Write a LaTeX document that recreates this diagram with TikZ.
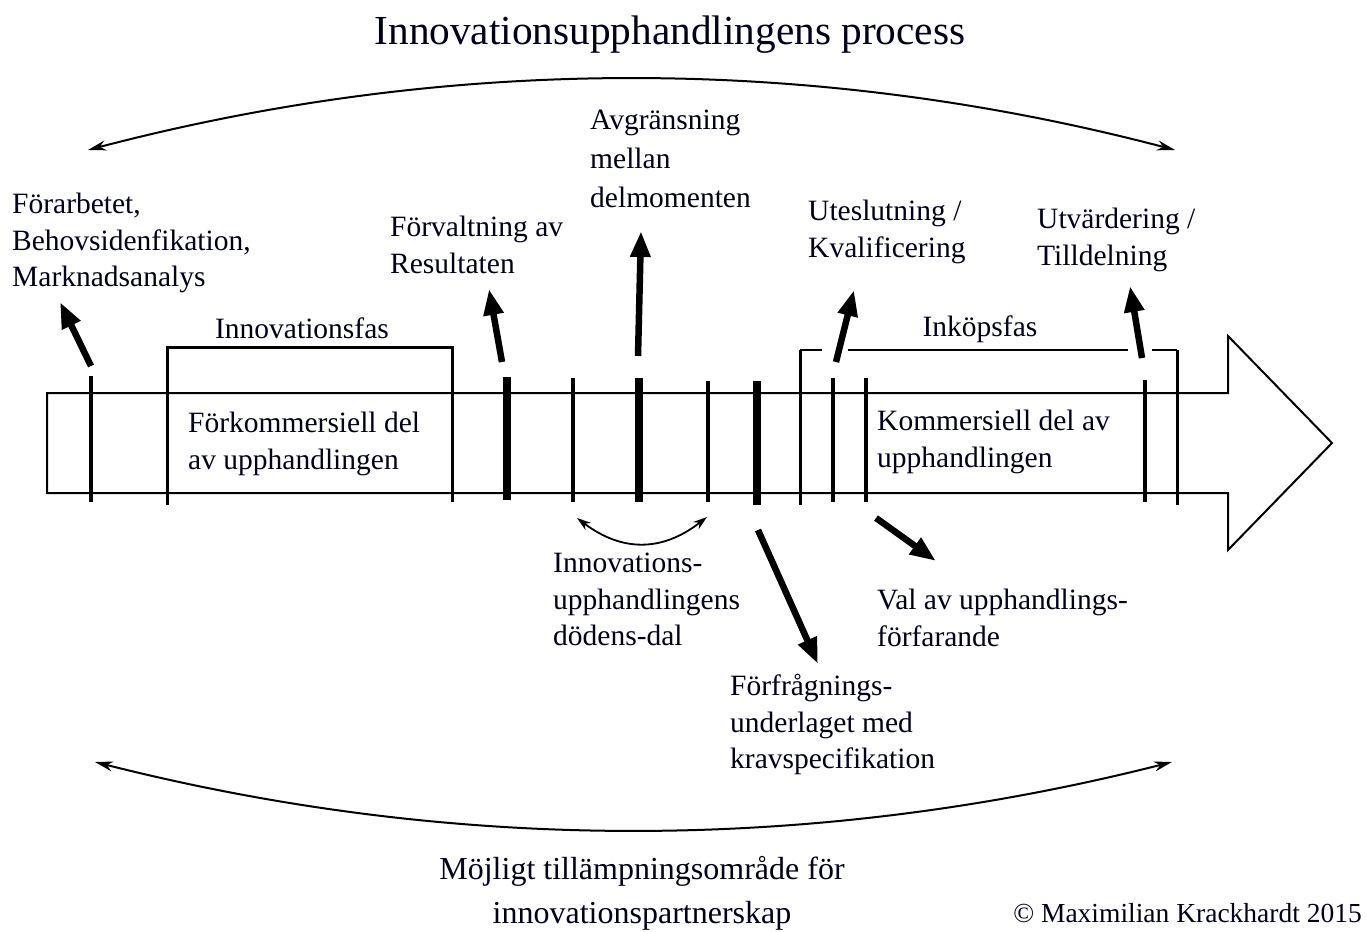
\documentclass[tikz,border=0pt]{standalone}
\usepackage{fontspec}
\setmainfont{Liberation Serif}
\usetikzlibrary{arrows.meta}
\begin{document}
\begin{tikzpicture}[x=1pt,y=-1pt,
  lbl/.style={font=\fontsize{29.5}{36.5}\selectfont, align=left, inner sep=0pt, anchor=north west, text=black!90!blue},
  thinbar/.style={line width=3.2pt},
  thickbar/.style={line width=8.5pt},
  bracketline/.style={line width=2.6pt},
  bigarrow/.style={line width=6.5pt, -{Triangle[length=26pt,width=19pt]}},
  thinarrow/.style={line width=2pt, {Stealth[length=18pt,width=10pt]}-{Stealth[length=18pt,width=10pt]}},
  smallarrow/.style={line width=1.8pt, {Stealth[length=14pt,width=9pt]}-{Stealth[length=14pt,width=9pt]}}
]
\useasboundingbox (0,0) rectangle (1367,931);

% title
\node[font=\fontsize{41.3}{48}\selectfont, inner sep=0pt, anchor=base, text=black!90!blue] (title) at (670,45) {Innovationsupphandlingens process};

% top and bottom range arrows
\coordinate (tl) at (88,150);
\coordinate (tr) at (1175,150);
\draw[thinarrow] (tl) .. controls (450,55) and (813,55) .. (tr);
\coordinate (bl) at (95,762);
\coordinate (br) at (1172,762);
\draw[thinarrow] (bl) .. controls (454,853) and (813,853) .. (br);

% big process arrow
\draw[line width=2pt, line join=miter] (47,393) -- (1228,393) -- (1228,336) -- (1332,443) -- (1228,550) -- (1228,493) -- (47,493) -- cycle;

% innovationsfas bracket
\draw[bracketline, line width=3pt] (167,505) -- (167,347) -- (452,347) -- (452,502);
% inkopsfas bracket
\draw[bracketline, line width=3pt] (800,505) -- (800,350);
\draw[bracketline] (800,350) -- (822,350);
\draw[bracketline] (848,350) -- (1128,350);
\draw[bracketline] (1152,350) -- (1177,350);
\draw[bracketline, line width=3pt] (1177,350) -- (1177,505);

% milestone bars
\draw[thinbar] (91,376) -- (91,502);
\draw[thickbar] (507,377) -- (507,500);
\draw[thinbar] (573,378) -- (573,502);
\draw[thickbar] (639,378) -- (639,502);
\draw[thinbar] (708,381) -- (708,502);
\draw[thickbar] (757,381) -- (757,505);
\draw[thinbar] (833,378) -- (833,502);
\draw[thinbar] (866,378) -- (866,502);
\draw[thinbar] (1145,380) -- (1145,502);

% labels
\node[lbl] (forarb) at (12,193) {Förarbetet,\\Behovsidenfikation,\\Marknadsanalys};
\node[lbl] (forv) at (390,216) {Förvaltning av\\Resultaten};
\node[lbl, font=\fontsize{29.5}{39}\selectfont] (avgr) at (590,110) {Avgränsning\\mellan\\delmomenten};
\node[lbl] (utes) at (808,200) {Uteslutning /\\Kvalificering};
\node[lbl] (utv) at (1037,208) {Utvärdering /\\Tilldelning};
\node[lbl, anchor=north] (innofas) at (302,318) {Innovationsfas};
\node[lbl, anchor=north] (inkfas) at (980,316) {Inköpsfas};
\node[lbl] (forkom) at (188,412) {Förkommersiell del\\av upphandlingen};
\node[lbl] (kom) at (877,410) {Kommersiell del av\\upphandlingen};
\node[lbl] (doden) at (553,553) {Innovations-\\upphandlingens\\dödens-dal};
\node[lbl] (val) at (877,589) {Val av upphandlings-\\förfarande};
\node[lbl] (forfr) at (730,674) {Förfrågnings-\\underlaget med\\kravspecifikation};
\node[font=\fontsize{32}{44}\selectfont, align=center, inner sep=0pt, anchor=north, text=black!90!blue] (mojligt) at (642,856) {Möjligt tillämpningsområde för\\innovationspartnerskap};
\node[font=\fontsize{27.5}{33}\selectfont, inner sep=0pt, anchor=base east, text=black!90!blue] (copy) at (1362,922) {© Maximilian Krackhardt 2015};

% pointer arrows
\coordinate (a1s) at (91,366);  \coordinate (a1e) at (60,302);
\coordinate (a2s) at (502,362); \coordinate (a2e) at (489,289);
\coordinate (a3s) at (638,356); \coordinate (a3e) at (641,231);
\coordinate (a4s) at (836,362); \coordinate (a4e) at (854,290);
\coordinate (a5s) at (1142,358); \coordinate (a5e) at (1130,286);
\coordinate (a6s) at (758,530); \coordinate (a6e) at (818,664);
\coordinate (a7s) at (876,518); \coordinate (a7e) at (936,561);
\draw[bigarrow] (a1s) -- (a1e);
\draw[bigarrow] (a2s) -- (a2e);
\draw[bigarrow] (a3s) -- (a3e);
\draw[bigarrow] (a4s) -- (a4e);
\draw[bigarrow] (a5s) -- (a5e);
\draw[bigarrow] (a6s) -- (a6e);
\draw[bigarrow] (a7s) -- (a7e);

% death valley arrow
\coordinate (dl) at (577,518);
\coordinate (dr) at (707,517);
\draw[smallarrow] (dl) .. controls (622,552) and (662,552) .. (dr);
\end{tikzpicture}
\end{document}
